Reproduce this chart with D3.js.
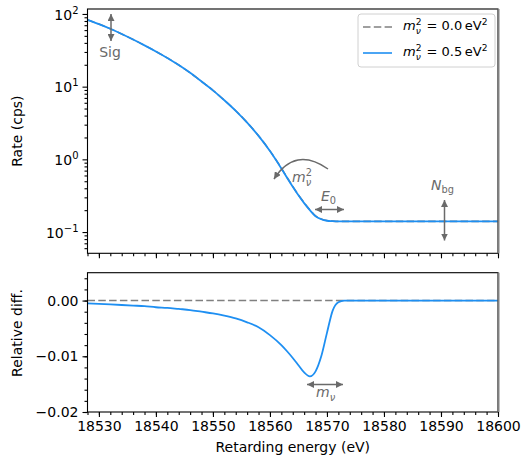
<!DOCTYPE html>
<html>
<head>
<meta charset="utf-8">
<script src="https://cdn.jsdelivr.net/npm/d3@7"></script>
<style>
  body { margin: 0; background: #fff; }
  svg, svg text { font-family: "DejaVu Sans", sans-serif; }
</style>
</head>
<body>
<div id="viz"></div>
<script>
// retarding energies (eV)
const energies = [18528, 18530, 18532, 18534, 18536, 18538, 18540, 18542, 18544, 18546,
                  18548, 18550, 18552, 18554, 18556, 18558, 18560, 18562, 18563, 18564,
                  18565, 18566, 18567, 18568, 18569, 18570, 18571, 18572, 18573, 18574,
                  18576, 18580, 18585, 18590, 18595, 18600];
// rate for m_nu^2 = 0.5 eV^2 (cps)
const rateM05 = [83, 72.5, 62.5, 53, 44.5, 37, 30.5, 24.8, 19.8, 15.5,
                 11.8, 8.9, 6.5, 4.65, 3.2, 2.1, 1.3, 0.75, 0.56, 0.42,
                 0.32, 0.25, 0.2, 0.165, 0.15, 0.143, 0.141, 0.14, 0.14, 0.14,
                 0.14, 0.14, 0.14, 0.14, 0.14, 0.14];
// relative difference to m_nu^2 = 0
const relDiff = [-0.0005, -0.0006, -0.0007, -0.0008, -0.0009, -0.0010, -0.0012, -0.0013, -0.0015, -0.0017,
                 -0.0020, -0.0023, -0.0027, -0.0032, -0.0039, -0.0048, -0.0062, -0.0080, -0.0091, -0.0103,
                 -0.0116, -0.0129, -0.0136, -0.0127, -0.0100, -0.0058, -0.0018, -0.0003, 0, 0,
                 0, 0, 0, 0, 0, 0];
const xTicks = [18530, 18540, 18550, 18560, 18570, 18580, 18590, 18600];
const logTicks = [0.1, 1, 10, 100];
const diffTicks = [0, -0.01, -0.02];

const rateM0 = rateM05.map((r, i) => r / (1 + relDiff[i]));

const width = 527, height = 460;
const left = 87.5, right = 498;
const top1 = 9, bot1 = 253.3;
const top2 = 272.7, bot2 = 412;
const blue = "#1e8ff2", grey = "#808080", annot = "#6a6a6a";
const font = "DejaVu Sans";

const svg = d3.select("#viz").append("svg")
    .attr("width", width)
    .attr("height", height)
    .attr("font-family", font);

const defs = svg.append("defs");
defs.append("marker")
    .attr("id", "head")
    .attr("viewBox", "0 0 10 10")
    .attr("refX", 10).attr("refY", 5)
    .attr("markerWidth", 7).attr("markerHeight", 7)
    .attr("markerUnits", "userSpaceOnUse")
    .attr("orient", "auto-start-reverse")
  .append("path")
    .attr("d", "M0,0 L10,5 L0,10 z")
    .attr("fill", annot);

const xScale = d3.scaleLinear().domain([18528, 18600]).range([left, right]);
const yTop = d3.scaleLog().domain([0.051, 117]).range([bot1, top1]);
const yBot = d3.scaleLinear().domain([-0.02, 0.005]).range([bot2, top2]);

const xMinor = d3.range(18528, 18601, 2);
const logMinor = [];
[0.01, 0.1, 1, 10, 100].forEach(d => {
    for (let k = 2; k <= 9; k++) {
        const v = d * k;
        if (v > 0.051 && v < 117) logMinor.push(v);
    }
});
const diffMinor = d3.range(-20, 6, 2).map(d => d / 1000);

function styleAxis(g) {
    g.attr("font-family", font).attr("font-size", 14);
    g.selectAll("path.domain").remove();
    g.selectAll("line").attr("stroke", "#000").attr("stroke-width", 1.1);
    g.selectAll("text").attr("fill", "#000").attr("font-size", 14);
}

// ---------- top panel ----------
const gx1 = svg.append("g").attr("transform", `translate(0,${bot1})`)
    .call(d3.axisBottom(xScale).tickValues(xTicks).tickSize(5).tickFormat(""));
styleAxis(gx1);
const gx1m = svg.append("g").attr("transform", `translate(0,${bot1})`)
    .call(d3.axisBottom(xScale).tickValues(xMinor).tickSize(3).tickFormat(""));
styleAxis(gx1m);

const gy1 = svg.append("g").attr("transform", `translate(${left},0)`)
    .call(d3.axisLeft(yTop).tickValues(logTicks).tickSize(5).tickFormat(""));
styleAxis(gy1);
gy1.selectAll(".tick").append("text")
    .attr("x", -9).attr("dy", "0.36em")
    .attr("text-anchor", "end")
    .attr("fill", "#000")
    .attr("font-size", 14)
    .each(function(d) {
        const e = Math.round(Math.log10(d));
        const t = d3.select(this);
        t.append("tspan").text("10");
        t.append("tspan").attr("font-size", 10).attr("dy", -6).text(e < 0 ? "\u2212" + (-e) : e);
    });
const gy1m = svg.append("g").attr("transform", `translate(${left},0)`)
    .call(d3.axisLeft(yTop).tickValues(logMinor).tickSize(3).tickFormat(""));
styleAxis(gy1m);

const clip1 = defs.append("clipPath").attr("id", "clip1");
clip1.append("rect").attr("x", left).attr("y", top1).attr("width", right - left).attr("height", bot1 - top1);

const lineTop0 = d3.line().x((d, i) => xScale(energies[i])).y(d => yTop(d)).curve(d3.curveMonotoneX);

svg.append("path").datum(rateM0)
    .attr("clip-path", "url(#clip1)")
    .attr("d", lineTop0)
    .attr("fill", "none").attr("stroke", grey).attr("stroke-width", 1.6)
    .attr("stroke-dasharray", "7.5,3.3");
svg.append("path").datum(rateM05)
    .attr("clip-path", "url(#clip1)")
    .attr("d", lineTop0)
    .attr("fill", "none").attr("stroke", blue).attr("stroke-width", 1.8);

// frame
svg.append("rect").attr("x", left).attr("y", top1).attr("width", right - left).attr("height", bot1 - top1)
    .attr("fill", "none").attr("stroke", "#000").attr("stroke-width", 1.1);
svg.append("line").attr("x1", right + 0.5).attr("x2", right + 0.5).attr("y1", top1).attr("y2", bot1)
    .attr("stroke", "#808080").attr("stroke-width", 2);

// y label
svg.append("text")
    .attr("transform", `translate(22,${(top1 + bot1) / 2}) rotate(-90)`)
    .attr("text-anchor", "middle").attr("font-size", 14)
    .text("Rate (cps)");

// ---------- bottom panel ----------
const gx2 = svg.append("g").attr("transform", `translate(0,${bot2})`)
    .call(d3.axisBottom(xScale).tickValues(xTicks).tickSize(5).tickPadding(4).tickFormat(d3.format("d")));
styleAxis(gx2);
const gx2m = svg.append("g").attr("transform", `translate(0,${bot2})`)
    .call(d3.axisBottom(xScale).tickValues(xMinor).tickSize(3).tickFormat(""));
styleAxis(gx2m);

const gy2 = svg.append("g").attr("transform", `translate(${left},0)`)
    .call(d3.axisLeft(yBot).tickValues(diffTicks).tickSize(5).tickPadding(4)
        .tickFormat(d => d3.format(".2f")(d).replace("-", "\u2212")));
styleAxis(gy2);
const gy2m = svg.append("g").attr("transform", `translate(${left},0)`)
    .call(d3.axisLeft(yBot).tickValues(diffMinor).tickSize(3).tickFormat(""));
styleAxis(gy2m);

const lineBot = d3.line().x((d, i) => xScale(energies[i])).y(d => yBot(d)).curve(d3.curveMonotoneX);

svg.append("line")
    .attr("x1", left).attr("x2", right).attr("y1", yBot(0)).attr("y2", yBot(0))
    .attr("stroke", grey).attr("stroke-width", 1.6).attr("stroke-dasharray", "7.5,3.3");
svg.append("path").datum(relDiff)
    .attr("d", lineBot)
    .attr("fill", "none").attr("stroke", blue).attr("stroke-width", 1.8);

svg.append("rect").attr("x", left).attr("y", top2).attr("width", right - left).attr("height", bot2 - top2)
    .attr("fill", "none").attr("stroke", "#000").attr("stroke-width", 1.1);
svg.append("line").attr("x1", right + 0.5).attr("x2", right + 0.5).attr("y1", top2).attr("y2", bot2)
    .attr("stroke", "#808080").attr("stroke-width", 2);

svg.append("text")
    .attr("transform", `translate(22,333) rotate(-90)`)
    .attr("text-anchor", "middle").attr("font-size", 14)
    .text("Relative diff.");
svg.append("text")
    .attr("x", (left + right) / 2).attr("y", 452)
    .attr("text-anchor", "middle").attr("font-size", 14)
    .text("Retarding energy (eV)");

// ---------- annotations ----------
function dArrow(x1, y1, x2, y2) {
    svg.append("line")
        .attr("x1", x1).attr("y1", y1).attr("x2", x2).attr("y2", y2)
        .attr("stroke", annot).attr("stroke-width", 1.5)
        .attr("marker-start", "url(#head)").attr("marker-end", "url(#head)");
}

// mathtext-like m with stacked sub nu and optional sup 2
function mNu(t, size, withSq) {
    t.append("tspan").attr("font-style", "italic").text("m");
    const s = size * 0.7;
    if (withSq) {
        t.append("tspan").attr("font-size", s).attr("dy", -size * 0.42).text("2");
        t.append("tspan").attr("font-size", s).attr("font-style", "italic")
            .attr("dx", -s * 0.62).attr("dy", size * 0.72).text("\u03bd");
        return -size * 0.3;
    }
    t.append("tspan").attr("font-size", s).attr("font-style", "italic")
        .attr("dy", size * 0.3).text("\u03bd");
    return -size * 0.3;
}

dArrow(111, 14, 111, 41);
svg.append("text").attr("x", 110).attr("y", 57).attr("text-anchor", "middle")
    .attr("font-size", 14).attr("fill", annot).text("Sig");

svg.append("path")
    .attr("d", "M328,169 Q295,146 274,179")
    .attr("fill", "none").attr("stroke", annot).attr("stroke-width", 1.5)
    .attr("marker-end", "url(#head)");
const tm2 = svg.append("text").attr("x", 292).attr("y", 182).attr("font-size", 14).attr("fill", annot);
mNu(tm2, 14, true);

dArrow(315, 209.5, 344, 209.5);
const te0 = svg.append("text").attr("x", 321).attr("y", 201).attr("font-size", 14).attr("fill", annot);
te0.append("tspan").attr("font-style", "italic").text("E");
te0.append("tspan").attr("font-size", 9.8).attr("dy", 3).text("0");

dArrow(444.5, 200, 444.5, 240.5);
const tnb = svg.append("text").attr("x", 431).attr("y", 190).attr("font-size", 14).attr("fill", annot);
tnb.append("tspan").attr("font-style", "italic").text("N");
tnb.append("tspan").attr("font-size", 9.8).attr("dy", 3).text("bg");

dArrow(307, 384.5, 343, 384.5);
const tmn = svg.append("text").attr("x", 316).attr("y", 397).attr("font-size", 14).attr("fill", annot);
mNu(tmn, 14, false);

// ---------- legend ----------
const legendItems = ["0.0", "0.5"];
const legendStyles = [{stroke: grey, dash: "7.5,3.3"}, {stroke: blue, dash: null}];
const leg = svg.append("g");
leg.append("rect").attr("x", 358).attr("y", 14).attr("width", 137).attr("height", 53)
    .attr("rx", 3).attr("fill", "#fff").attr("fill-opacity", 0.8)
    .attr("stroke", "#d0d0d0").attr("stroke-width", 1);
legendItems.forEach((v, i) => {
    const yy = 27 + i * 26;
    leg.append("line").attr("x1", 363).attr("x2", 392).attr("y1", yy).attr("y2", yy)
        .attr("stroke", legendStyles[i].stroke).attr("stroke-width", 1.6)
        .attr("stroke-dasharray", legendStyles[i].dash);
    const t = leg.append("text").attr("x", 403).attr("y", yy + 3).attr("font-size", 13);
    const back = mNu(t, 13, true);
    t.append("tspan").attr("font-size", 13).attr("dy", back).attr("dx", 1.5).text(" = " + v + "\u2009eV");
    t.append("tspan").attr("font-size", 9.1).attr("dy", -5.5).text("2");
});
</script>
</body>
</html>
